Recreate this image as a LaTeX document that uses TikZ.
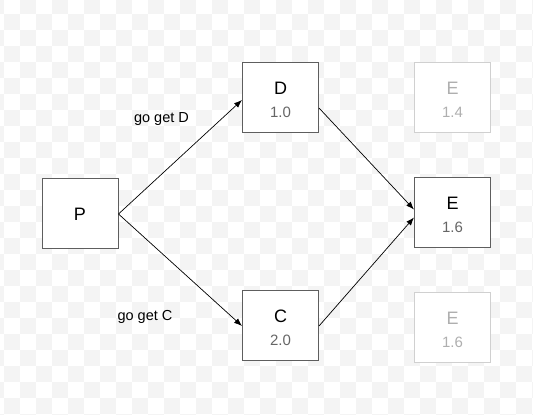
\documentclass[tikz,border=0pt]{standalone}
\usepackage{fontspec}
\setmainfont{Liberation Sans}
\usetikzlibrary{positioning,arrows.meta}

\definecolor{checker}{HTML}{F4F4F4}
\definecolor{boxline}{HTML}{5E5E5E}
\definecolor{fadeline}{HTML}{D0D0D0}
\definecolor{numgray}{HTML}{666666}
\definecolor{fadetext}{HTML}{AFAFAF}
\newcommand\numsize{\fontsize{15}{15}\selectfont}
\newcommand\toprow{\rule{0pt}{16pt}}

\begin{document}
\begin{tikzpicture}[
  x=1pt,y=1pt,
  box/.style={draw=boxline,line width=1pt,fill=white,minimum width=76pt,
    minimum height=70pt,inner sep=0pt,align=center,
    font=\fontsize{18}{23}\selectfont},
  faded/.style={box,draw=fadeline,text=fadetext},
  lbl/.style={anchor=base,font=\fontsize{14.5}{17}\selectfont},
  link/.style={-{Latex[length=8pt,width=6pt]},line width=0.7pt},
  node distance=157pt and 95pt
]
  \useasboundingbox (0,0) rectangle (533,415);
  % background squares
  \begin{scope}
    \clip (0,0) rectangle (533,415);
    \foreach \i in {-1,...,33}
      \foreach \j in {-1,...,25} {
        \pgfmathparse{int(mod(\i+\j+2,2))}
        \ifnum\pgfmathresult=0
          \fill[checker] ({4+16*\i},{385-16*\j}) rectangle +(16,16);
        \fi
      }
  \end{scope}

  \node[box] (P) at (80,201) {P};
  \node[box] (D) at (280.5,317) {\toprow D\\\numsize\color{numgray}1.0};
  \node[box,below=of D] (C) {\toprow C\\\numsize\color{numgray}2.0};

  \node[faded,right=of D] (Etop) {\toprow E\\\numsize 1.4};
  \node[box,below=44pt of Etop] (E) {\toprow E\\\numsize\color{numgray}1.6};
  \node[faded,below=44pt of E] (Ebot) {\toprow E\\\numsize 1.6};

  \node[lbl] (getD) at (161.5,292) {go get D};
  \node[lbl] (getC) at (145,94) {go get C};

  \draw[link] (P.east) -- ([yshift=-2pt]D.west);
  \draw[link] (P.east) -- (C.west);
  \draw[link] ([yshift=-10pt]D.east) -- ([yshift=3.5pt]E.west);
  \draw[link] (C.east) -- ([yshift=-4.5pt]E.west);
\end{tikzpicture}
\end{document}
